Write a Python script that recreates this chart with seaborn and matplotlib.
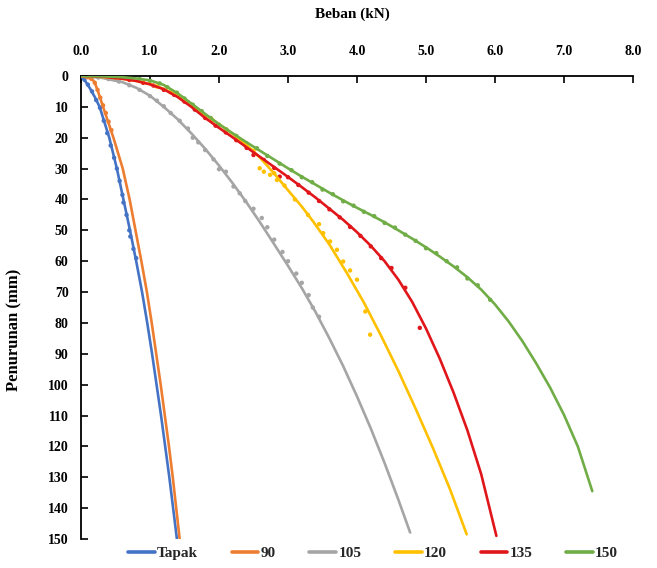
import matplotlib
matplotlib.use("Agg")
import matplotlib.pyplot as plt
import seaborn as sns
import pandas as pd

# ---------------- data (load in kN, settlement in mm) ----------------
series_names = ["Tapak", "90", "105", "120", "135", "150"]
series_colors = ["#4472C4", "#ED7D31", "#A5A5A5", "#FFC000", "#E0161B", "#70AD47"]

x_ticks = [0.0, 1.0, 2.0, 3.0, 4.0, 5.0, 6.0, 7.0, 8.0]
y_ticks = [0, 10, 20, 30, 40, 50, 60, 70, 80, 90, 100, 110, 120, 130, 140, 150]

# trend lines
tapak_line_load = [0.0, 0.06, 0.13, 0.2, 0.27, 0.41, 0.52, 0.615, 0.71, 0.80, 0.885, 0.96, 1.03, 1.095, 1.16, 1.22, 1.28, 1.335, 1.39]
tapak_line_set = [0, 1.6, 4, 6.8, 10, 20, 30, 40, 50, 60, 70, 80, 90, 100, 110, 120, 130, 140, 150]

s90_line_load = [0.0, 0.1, 0.14, 0.18, 0.21, 0.25, 0.32, 0.47, 0.605, 0.705, 0.79, 0.875, 0.955, 1.025, 1.09, 1.155, 1.215, 1.275, 1.33, 1.38, 1.43]
s90_line_set = [0, 0.4, 0.8, 1.5, 2.8, 5.2, 10, 20, 30, 40, 50, 60, 70, 80, 90, 100, 110, 120, 130, 140, 150]

s105_line_load = [0.0, 0.3, 0.6, 0.8, 1.0, 1.2, 1.4, 1.6, 1.8, 2.0, 2.2, 2.4, 2.6, 2.8, 3.0, 3.2, 3.4, 3.6, 3.8, 4.0, 4.2, 4.4, 4.6, 4.77]
s105_line_set = [0, 0.6, 2.0, 3.8, 6.4, 10.0, 14.0, 18.6, 23.6, 29.0, 34.8, 41.0, 47.6, 54.5, 61.5, 68.7, 76.5, 85.0, 94.0, 103.8, 114.2, 125.4, 137.3, 147.9]

s120_line_load = [0.0, 0.3, 0.57, 0.8, 1.0, 1.2, 1.4, 1.6, 1.8, 2.0, 2.2, 2.4, 2.6, 2.8, 3.0, 3.2, 3.37, 3.6, 3.85, 4.1, 4.35, 4.6, 4.85, 5.1, 5.35, 5.59]
s120_line_set = [0, 0.3, 0.8, 1.6, 2.6, 4.2, 6.4, 9.4, 12.6, 15.6, 18.8, 22.3, 26.6, 31.6, 37.0, 42.3, 47.3, 54.6, 63.7, 73.4, 84.2, 95.6, 107.8, 120.5, 134.0, 148.5]

s135_line_load = [0.0, 0.3, 0.6, 0.8, 1.0, 1.2, 1.4, 1.6, 1.8, 2.0, 2.2, 2.4, 2.6, 2.8, 3.0, 3.2, 3.4, 3.6, 3.8, 4.0, 4.2, 4.4, 4.6, 4.8, 5.0, 5.2, 5.4, 5.6, 5.8, 6.02]
s135_line_set = [0, 0.2, 0.9, 1.6, 2.7, 4.3, 6.8, 10.0, 13.6, 16.8, 19.9, 23.1, 26.3, 29.5, 32.7, 36.0, 39.4, 43.0, 46.6, 50.6, 55.0, 60.0, 66.0, 73.2, 81.8, 91.6, 102.6, 114.8, 129.0, 149.0]

s150_line_load = [0.0, 0.3, 0.6, 0.8, 1.0, 1.2, 1.4, 1.6, 1.8, 2.0, 2.2, 2.4, 2.6, 2.8, 3.0, 3.2, 3.4, 3.6, 3.8, 4.0, 4.2, 4.4, 4.6, 4.8, 5.0, 5.2, 5.4, 5.6, 5.8, 6.0, 6.2, 6.4, 6.6, 6.8, 7.0, 7.2, 7.41]
s150_line_set = [0, 0.1, 0.4, 0.8, 1.4, 2.9, 5.6, 8.9, 12.3, 15.6, 18.6, 21.5, 24.3, 27.1, 29.9, 32.6, 35.2, 37.8, 40.3, 42.7, 45.0, 47.4, 50.0, 52.7, 55.5, 58.5, 61.7, 65.2, 69.2, 74.0, 79.6, 86.0, 93.2, 101.0, 109.8, 120.0, 134.5]

# measured points
tapak_pts_load = [0.02, 0.05, 0.1, 0.16, 0.22, 0.275, 0.33, 0.38, 0.43, 0.48, 0.52, 0.56, 0.6, 0.615, 0.66, 0.7, 0.715, 0.76, 0.8]
tapak_pts_set = [0.3, 1.2, 2.8, 5, 7.8, 10.3, 14.5, 18.5, 22.5, 26.5, 30, 34, 38.5, 41, 45, 50, 52, 56, 59]

s90_pts_load = [0.05, 0.1, 0.15, 0.2, 0.24, 0.28, 0.32, 0.36, 0.4, 0.44]
s90_pts_set = [0.2, 0.4, 0.9, 2.2, 4.5, 7.0, 9.5, 12, 14.8, 17.5]

s105_pts_load = [0.1, 0.25, 0.4, 0.55, 0.7, 0.85, 1.0, 1.1, 1.2, 1.3, 1.43, 1.55, 1.62, 1.7, 1.8, 1.92, 2.0, 2.1, 2.21, 2.3, 2.38, 2.5, 2.62, 2.7, 2.8, 2.92, 3.0, 3.12, 3.2, 3.3, 3.36, 3.45]
s105_pts_set = [0.2, 0.5, 1, 1.8, 3, 4.5, 6.5, 8, 9.8, 12, 14.5, 17, 20, 21.5, 24, 27, 30.2, 31, 35.8, 38, 40.5, 43, 46, 49, 53, 57, 60, 64, 67, 71, 75, 78]

s120_pts_load = [0.1, 0.3, 0.5, 0.7, 0.9, 1.1, 1.3, 1.5, 1.7, 1.9, 2.1, 2.3, 2.5, 2.59, 2.65, 2.74, 2.8, 2.84, 2.95, 3.1, 3.29, 3.45, 3.51, 3.61, 3.71, 3.8, 3.9, 4.0, 4.12, 4.19]
s120_pts_set = [0, 0.3, 0.6, 1.2, 2.1, 3.4, 5.3, 8, 11.2, 14.2, 17.2, 20.5, 24.2, 29.9, 31, 32, 31.5, 33.7, 35.5, 40, 45, 48, 50.9, 53.6, 56.3, 60.1, 63, 66, 76.3, 83.8]

s135_pts_load = [0.1, 0.3, 0.5, 0.7, 0.9, 1.05, 1.2, 1.35, 1.5, 1.65, 1.8, 1.95, 2.1, 2.25, 2.4, 2.5, 2.65, 2.8, 2.88, 3.0, 3.15, 3.3, 3.45, 3.6, 3.75, 3.9, 4.05, 4.2, 4.35, 4.5, 4.7, 4.91]
s135_pts_set = [0, 0.2, 0.6, 1.3, 2.2, 3.1, 4.5, 6.1, 8.3, 10.9, 13.6, 16.1, 18.3, 20.8, 23.3, 25.6, 27.2, 29.8, 32.6, 32.8, 35.3, 37.8, 40.5, 43.2, 45.8, 48.9, 51.8, 55.2, 59.0, 62.2, 68.6, 81.6]

s150_pts_load = [0.1, 0.3, 0.5, 0.7, 0.85, 1.0, 1.14, 1.25, 1.39, 1.5, 1.62, 1.75, 1.88, 2.0, 2.11, 2.25, 2.4, 2.55, 2.7, 2.88, 3.05, 3.2, 3.35, 3.5, 3.65, 3.8, 3.95, 4.1, 4.25, 4.4, 4.55, 4.7, 4.85, 5.0, 5.15, 5.3, 5.45, 5.6, 5.75, 5.93]
s150_pts_set = [0, 0.1, 0.3, 0.6, 1.0, 1.6, 2.4, 3.6, 5.4, 7.3, 9.3, 11.4, 13.6, 15.8, 17.4, 19.4, 21.8, 23.4, 25.9, 28.4, 30.5, 32.8, 34.4, 36.8, 38.3, 40.6, 42.0, 44.0, 45.4, 47.6, 49.1, 51.4, 53.4, 55.8, 57.4, 60.0, 62.0, 65.6, 67.8, 72.5]

# ---------------- assemble tables ----------------
line_sets = [(tapak_line_load, tapak_line_set), (s90_line_load, s90_line_set),
             (s105_line_load, s105_line_set), (s120_line_load, s120_line_set),
             (s135_line_load, s135_line_set), (s150_line_load, s150_line_set)]
pt_sets = [(tapak_pts_load, tapak_pts_set), (s90_pts_load, s90_pts_set),
           (s105_pts_load, s105_pts_set), (s120_pts_load, s120_pts_set),
           (s135_pts_load, s135_pts_set), (s150_pts_load, s150_pts_set)]

lines_df = pd.concat([pd.DataFrame({"load": lx, "settlement": ly, "series": n})
                      for n, (lx, ly) in zip(series_names, line_sets)], ignore_index=True)
pts_df = pd.concat([pd.DataFrame({"load": px, "settlement": py, "series": n})
                    for n, (px, py) in zip(series_names, pt_sets)], ignore_index=True)
palette = dict(zip(series_names, series_colors))

# ---------------- plot ----------------
sns.set_theme(style="white")
plt.rcParams["font.family"] = ["Liberation Serif", "DejaVu Serif"]
plt.rcParams["font.weight"] = "bold"

fig = plt.figure(figsize=(6.57, 5.68), dpi=100)
ax = fig.add_axes([81 / 657, 1 - 539 / 568, 552 / 657, 463 / 568])

sns.scatterplot(data=pts_df, x="load", y="settlement", hue="series", palette=palette,
                hue_order=series_names, s=10, linewidth=0, legend=False, ax=ax, zorder=2)
sns.lineplot(data=lines_df, x="load", y="settlement", hue="series", palette=palette,
             hue_order=series_names, sort=False, estimator=None, linewidth=1.9, ax=ax, zorder=3)
for ln in ax.get_lines():
    ln.set_solid_joinstyle("round")
    ln.set_solid_capstyle("round")

ax.set_xlim(0, 8)
ax.set_ylim(150, 0)
ax.xaxis.tick_top()
ax.xaxis.set_label_position("top")
ax.set_xticks(x_ticks)
ax.set_xticklabels([f"{v:.1f}" for v in x_ticks])
ax.set_yticks(y_ticks)
ax.set_yticklabels([str(v) for v in y_ticks])
ax.tick_params(axis="x", direction="in", length=5, width=1.2, pad=13, labelsize=10,
               colors="black", top=True, bottom=False)
ax.tick_params(axis="y", direction="in", length=5, width=1.2, pad=9, labelsize=10,
               colors="black", left=True)
for lab in ax.get_xticklabels() + ax.get_yticklabels():
    lab.set_fontweight("bold")

for side in ["right", "bottom"]:
    ax.spines[side].set_visible(False)
for side in ["top", "left"]:
    ax.spines[side].set_visible(True)
    ax.spines[side].set_color("black")
    ax.spines[side].set_linewidth(1.3)

ax.set_xlabel("Beban (kN)", fontsize=11, fontweight="bold", color="black")
ax.set_ylabel("Penurunan (mm)", fontsize=12, fontweight="bold", color="black")
ax.xaxis.set_label_coords((352 - 81) / 552, 1 + (76 - 18) / 463)
ax.yaxis.set_label_coords((22 - 81) / 552, 1 - (330 - 76) / 463)
ax.grid(False)

handles, labels = ax.get_legend_handles_labels()
if ax.get_legend() is not None:
    ax.get_legend().remove()
leg = fig.legend(handles, labels, loc="center", bbox_to_anchor=(373 / 657, 1 - 553 / 568),
                 ncol=6, frameon=False, fontsize=11, handlelength=1.75, handletextpad=0.15,
                 columnspacing=2.2, borderaxespad=0)
for h in leg.get_lines():
    h.set_linewidth(2.6)
for t in leg.get_texts():
    t.set_fontweight("bold")

fig.savefig("out.png", dpi=100)
